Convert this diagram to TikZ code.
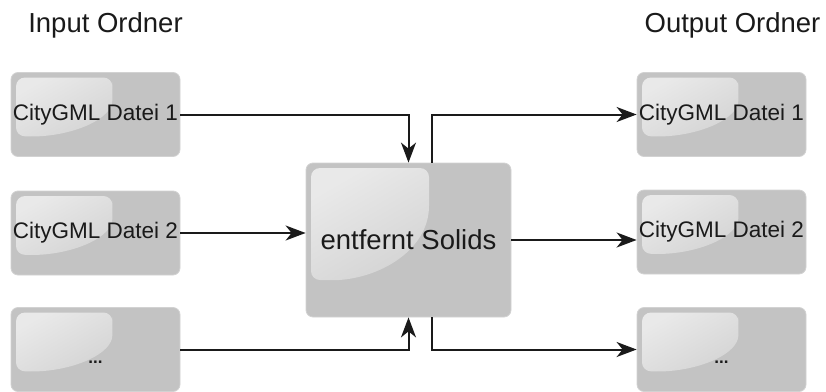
\documentclass[tikz,border=0pt]{standalone}
\usepackage{fontspec}
\setmainfont{Liberation Sans}
\usetikzlibrary{arrows.meta,calc}

\definecolor{boxgray}{HTML}{C3C3C3}
\definecolor{boxedge}{HTML}{D2D2D2}
\definecolor{glosstop}{HTML}{E9E9E9}
\definecolor{inktext}{HTML}{1A1A1A}

\tikzset{
  procbox/.style={
    draw=boxedge, line width=0.8pt, fill=boxgray, rounded corners=7pt,
    inner sep=0pt, text=inktext, font=\fontsize{22.5}{26}\selectfont,
    path picture={
      \path let \p1=(path picture bounding box.north west),
                \p2=(path picture bounding box.south east),
                \n1={\x2-\x1}, \n2={\y1-\y2} in
        [shade, top color=glosstop, bottom color=boxgray!92!white, shading angle=30,
         rounded corners=9pt]
        (\x1+5pt,\y1-5pt) -- (\x1+0.6*\n1,\y1-5pt)
        -- (\x1+0.6*\n1,\y1-0.22*\n2)
        [sharp corners] .. controls (\x1+0.6*\n1,\y1-0.55*\n2) and (\x1+0.38*\n1,\y1-0.74*\n2) ..
        (\x1+0.16*\n1,\y1-0.76*\n2)
        [rounded corners=9pt] -- (\x1+5pt,\y1-0.76*\n2) -- cycle;
    }},
  smallbox/.style={procbox, minimum width=169pt, minimum height=84pt},
  heading/.style={anchor=base, text=inktext, font=\fontsize{27.5}{32}\selectfont},
  dotslabel/.style={text=inktext, font=\fontsize{17}{18}\selectfont\bfseries},
  flow/.style={draw=inktext, line width=2pt,
    -{Stealth[length=20pt, width=15pt, inset=6pt]}}
}

\begin{document}
\begin{tikzpicture}[x=1pt, y=-1pt]
  \useasboundingbox (0,0) rectangle (826,391);

  % folder headings
  \node[heading] (hin)  at (105.5,32) {Input Ordner};
  \node[heading] (hout) at (732.5,32) {Output Ordner};

  % input files
  \node[smallbox] (in1) at (95.5,114.5) {CityGML Datei 1};
  \node[smallbox] (in2) at (95.5,233)   {CityGML Datei 2};
  \node[smallbox] (in3) at (95.5,349.5) {};
  \node[dotslabel] (in3dots) at ([yshift=-13pt]in3.center) {...};

  % processing step
  \node[procbox, minimum width=205pt, minimum height=154pt,
        font=\fontsize{27.5}{32}\selectfont] (mid) at (408.5,240) {entfernt Solids};

  % output files
  \node[smallbox] (out1) at (721.5,114.5) {CityGML Datei 1};
  \node[smallbox] (out2) at (721.5,232)   {CityGML Datei 2};
  \node[smallbox] (out3) at (721.5,349.5) {};
  \node[dotslabel] (out3dots) at ([yshift=-13pt]out3.center) {...};

  % taps on the processing box for the outgoing lines
  \coordinate (midtop) at ([xshift=23.5pt]mid.north);
  \coordinate (midbot) at ([xshift=23.5pt]mid.south);

  % inputs into the step
  \draw[flow] (in1.east) -| (mid.north);
  \draw[flow] (in2.east) -- (in2.east -| mid.west);
  \draw[flow] (in3.east) -| (mid.south);

  % step to outputs
  \draw[flow] (midtop) |- (out1.west);
  \draw[flow] (mid.east) -- (mid.east -| out2.west);
  \draw[flow] (midbot) |- (out3.west);
\end{tikzpicture}
\end{document}
